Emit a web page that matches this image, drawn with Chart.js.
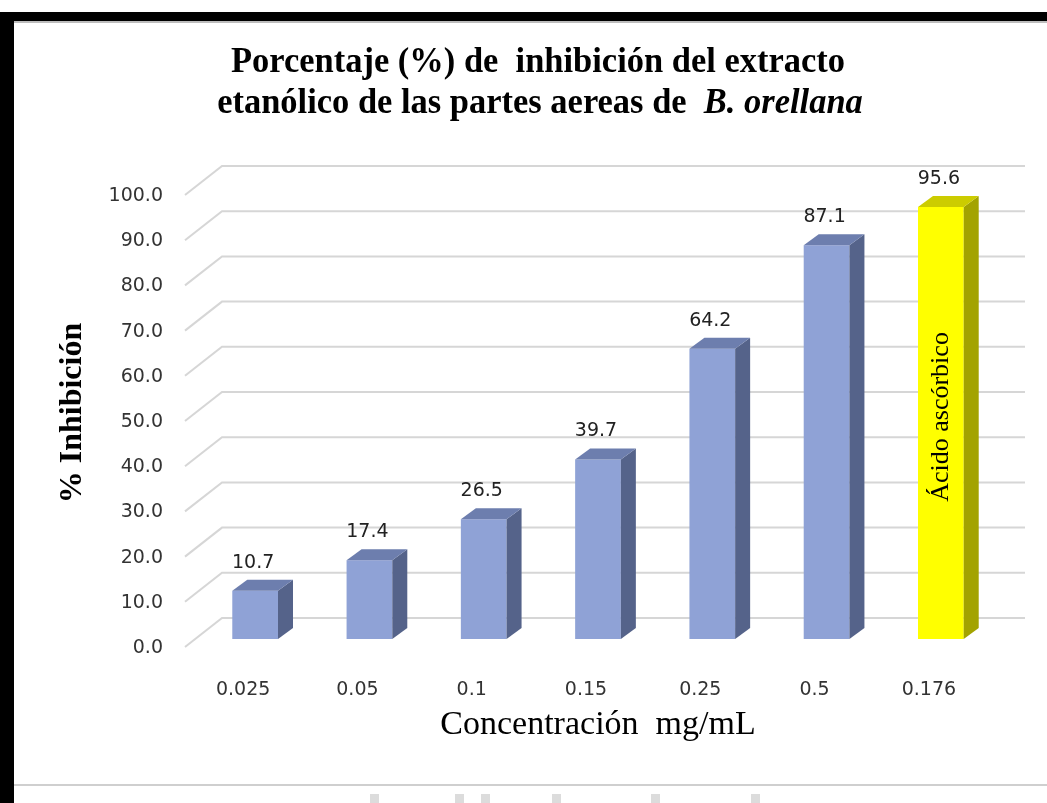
<!DOCTYPE html>
<html lang="es">
<head>
<meta charset="UTF-8">
<title>Porcentaje de inhibición</title>
<style>
    body { margin: 0; background: #fff; }
    #chart { display: block; }
</style>
<script src="https://cdn.jsdelivr.net/npm/chart.js"></script>
</head>
<body>
<canvas id="chart" width="1047" height="803"></canvas>
<script>
// datos
const categories = ['0.025', '0.05', '0.1', '0.15', '0.25', '0.5', '0.176'];
const inhibition = [10.7, 17.4, 26.5, 39.7, 64.2, 87.1, 95.6];
const frontColors = ['#8fa2d6', '#8fa2d6', '#8fa2d6', '#8fa2d6', '#8fa2d6', '#8fa2d6', '#ffff00'];
const sideColors = ['#55638a', '#55638a', '#55638a', '#55638a', '#55638a', '#55638a', '#a3a300'];
const topColors = ['#6d7eae', '#6d7eae', '#6d7eae', '#6d7eae', '#6d7eae', '#6d7eae', '#cccc00'];
const titleLine1 = 'Porcentaje (%) de  inhibición del extracto';
const titleLine2 = 'etanólico de las partes aereas de  ';
const titleItalic = 'B. orellana';
const barNote = 'Ácido ascórbico';

// marco, lineas de fondo en perspectiva, caras 3D
const look3d = {
    id: 'look3d',
    beforeDraw(chart) {
        const ctx = chart.ctx;
        ctx.save();
        ctx.fillStyle = '#fff';
        ctx.fillRect(0, 0, chart.width, chart.height);
        ctx.fillStyle = '#000';
        ctx.fillRect(0, 12, chart.width, 9);
        ctx.fillRect(0, 12, 14, chart.height - 12);
        ctx.fillStyle = '#bdbdbd';
        ctx.fillRect(14, 21, chart.width - 14, 2);
        ctx.fillStyle = '#cfcfcf';
        ctx.fillRect(14, 784, chart.width - 14, 2);
        ctx.fillStyle = '#dcdcdc';
        [370, 455, 481, 552, 651, 751].forEach(x => ctx.fillRect(x, 794, 9, 9));

        // titulo
        ctx.fillStyle = '#000';
        ctx.textAlign = 'left';
        ctx.textBaseline = 'middle';
        ctx.font = 'bold 30px "Liberation Serif"';
        let w1 = ctx.measureText(titleLine1).width;
        let sx = 614 / w1;
        ctx.save();
        ctx.translate(538, 63);
        ctx.scale(sx, 1.22);
        ctx.fillText(titleLine1, -w1 / 2, 0);
        ctx.restore();
        let wa = ctx.measureText(titleLine2).width;
        ctx.font = 'bold italic 30px "Liberation Serif"';
        let wb = ctx.measureText(titleItalic).width;
        ctx.save();
        ctx.translate(540, 104);
        ctx.scale(sx, 1.22);
        ctx.font = 'bold 30px "Liberation Serif"';
        ctx.fillText(titleLine2, -(wa + wb) / 2, 0);
        ctx.font = 'bold italic 30px "Liberation Serif"';
        ctx.fillText(titleItalic, -(wa + wb) / 2 + wa, 0);
        ctx.restore();
        ctx.restore();
    },
    beforeDatasetsDraw(chart) {
        const ctx = chart.ctx;
        const y = chart.scales.y;
        const area = chart.chartArea;
        ctx.save();
        ctx.strokeStyle = '#d6d6d6';
        ctx.lineWidth = 2;
        y.ticks.forEach(t => {
            const py = y.getPixelForValue(t.value);
            ctx.beginPath();
            ctx.moveTo(area.left - 13, py + 8);
            ctx.lineTo(area.left + 24, py - 21);
            ctx.lineTo(area.right + 27, py - 21);
            ctx.stroke();
        });
        ctx.restore();
    },
    afterDatasetsDraw(chart) {
        const ctx = chart.ctx;
        const meta = chart.getDatasetMeta(0);
        const dx = 15, dy = -11;
        ctx.save();
        meta.data.forEach((bar, i) => {
            const x1 = bar.x - bar.width / 2;
            const x2 = bar.x + bar.width / 2;
            const top = bar.y, base = bar.base;
            ctx.fillStyle = sideColors[i];
            ctx.beginPath();
            ctx.moveTo(x2, top);
            ctx.lineTo(x2 + dx, top + dy);
            ctx.lineTo(x2 + dx, base + dy);
            ctx.lineTo(x2, base);
            ctx.closePath();
            ctx.fill();
            ctx.fillStyle = topColors[i];
            ctx.beginPath();
            ctx.moveTo(x1, top);
            ctx.lineTo(x2, top);
            ctx.lineTo(x2 + dx, top + dy);
            ctx.lineTo(x1 + dx, top + dy);
            ctx.closePath();
            ctx.fill();

            ctx.fillStyle = '#222';
            ctx.font = '19px "DejaVu Sans"';
            ctx.textAlign = 'center';
            ctx.textBaseline = 'middle';
            ctx.fillText(inhibition[i].toFixed(1), bar.x - 2, top - 28);
        });
        // nota dentro de la barra amarilla
        const last = meta.data[meta.data.length - 1];
        ctx.translate(last.x, (last.y + last.base) / 2 - 6);
        ctx.rotate(-Math.PI / 2);
        ctx.fillStyle = '#000';
        ctx.font = '26px "Liberation Serif"';
        ctx.textAlign = 'center';
        ctx.textBaseline = 'middle';
        ctx.fillText(barNote, 0, 0);
        ctx.restore();
    }
};

new Chart(document.getElementById('chart'), {
    type: 'bar',
    data: {
        labels: categories,
        datasets: [{
            data: inhibition,
            backgroundColor: frontColors,
            borderWidth: 0,
            barPercentage: 0.8,
            categoryPercentage: 0.5
        }]
    },
    options: {
        responsive: false,
        animation: false,
        layout: { padding: { left: 30, top: 187, right: 49, bottom: 0 } },
        plugins: {
            legend: { display: false },
            tooltip: { enabled: false }
        },
        scales: {
            x: {
                grid: { display: false },
                border: { display: false },
                ticks: {
                    color: '#333',
                    font: { family: 'DejaVu Sans', size: 19 },
                    padding: 32,
                    labelOffset: -12,
                    maxRotation: 0
                },
                title: {
                    display: true,
                    text: 'Concentración  mg/mL',
                    color: '#000',
                    font: { family: 'Liberation Serif', size: 34 },
                    padding: { top: 0, bottom: 58 }
                },
                afterFit(scale) { scale.height = 164; }
            },
            y: {
                min: 0,
                max: 100,
                grid: { display: false },
                border: { display: false },
                ticks: {
                    stepSize: 10,
                    color: '#333',
                    font: { family: 'DejaVu Sans', size: 19 },
                    padding: 27,
                    labelOffset: 9,
                    callback: v => Number(v).toFixed(1)
                },
                title: {
                    display: true,
                    text: '% Inhibición',
                    color: '#000',
                    font: { family: 'Liberation Serif', size: 32, weight: 'bold' },
                    padding: { top: 24, bottom: 0 }
                },
                afterFit(scale) { scale.width = 168; }
            }
        }
    },
    plugins: [look3d]
});
</script>
</body>
</html>
